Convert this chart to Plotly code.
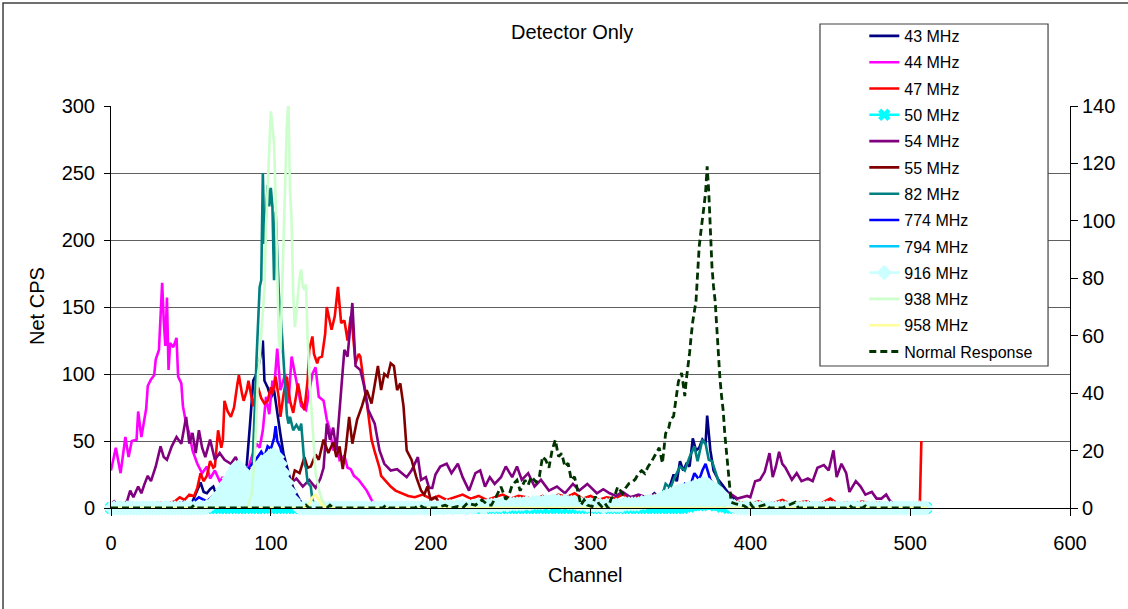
import plotly.graph_objects as go

# ---- channel grid used by the marker series (every second channel) ----
CH2 = list(range(0, 512, 2))

# ---- series data: (channel, net CPS) pairs ----
s43 = [(0, 0), (10, 1), (20, 2), (30, 1), (40, 3), (45, 4), (50, 2), (53, 10), (56, 19), (58, 12),
       (60, 11), (62, 14), (64, 16), (66, 10), (68, 8), (70, 15), (72, 12), (74, 20), (76, 13), (78, 22),
       (81, 26), (83, 22), (85, 33), (87, 63), (89, 95), (91, 100), (93, 110), (95, 125), (96, 95),
       (98, 90), (100, 82), (102, 88), (104, 70), (106, 55), (108, 40), (110, 30), (112, 22), (114, 15),
       (116, 10), (118, 6), (120, 3), (124, 0), (200, 0), (300, 2), (320, 6), (330, 9), (336, 7),
       (340, 11), (344, 6), (346, 13), (348, 10), (350, 18), (352, 25), (354, 20), (356, 35), (358, 28),
       (360, 33), (362, 31), (364, 52), (366, 43), (368, 45), (370, 51), (372, 48), (373, 69), (375, 43),
       (377, 28), (380, 21), (382, 18), (385, 13), (387, 10), (389, 8), (392, 4), (396, 1), (400, 0),
       (511, 0)]

s44 = [(0, 28), (3, 45), (6, 26), (9, 53), (11, 38), (13, 50), (16, 51), (17, 72), (19, 53), (22, 74),
       (23, 91), (25, 96), (27, 99), (28, 111), (30, 118), (32, 168), (33, 140), (34, 121), (35, 157),
       (36, 103), (37, 123), (39, 120), (41, 127), (42, 98), (44, 93), (45, 76), (47, 63), (49, 56),
       (51, 43), (54, 33), (57, 26), (60, 31), (62, 22), (65, 28), (68, 20), (70, 23), (72, 15), (75, 22),
       (78, 18), (80, 26), (83, 23), (86, 30), (88, 38), (91, 48), (93, 45), (95, 58), (97, 83), (99, 70),
       (101, 95), (102, 88), (104, 119), (106, 88), (109, 100), (111, 78), (113, 113), (116, 93),
       (119, 76), (122, 73), (124, 88), (126, 100), (128, 105), (130, 83), (133, 80), (135, 66),
       (137, 58), (139, 43), (141, 48), (143, 36), (146, 39), (148, 30), (150, 29), (152, 24), (155, 21),
       (158, 16), (160, 13), (163, 6), (165, 3), (170, 1), (180, 0), (511, 0)]

s47 = [(0, 0), (5, 1), (10, 2), (15, 1), (20, 3), (25, 2), (30, 4), (35, 3), (40, 5), (43, 8), (46, 6),
       (49, 10), (52, 9), (54, 15), (56, 26), (58, 20), (60, 24), (62, 35), (64, 30), (65, 31), (67, 58),
       (69, 45), (70, 51), (71, 80), (73, 72), (75, 68), (77, 75), (79, 92), (80, 99), (82, 85), (83, 80),
       (85, 88), (86, 95), (88, 82), (89, 76), (91, 88), (92, 90), (94, 82), (96, 78), (98, 80),
       (100, 90), (101, 85), (103, 98), (105, 82), (106, 68), (108, 85), (110, 98), (112, 80), (114, 71),
       (116, 85), (117, 93), (119, 80), (121, 73), (123, 95), (124, 118), (126, 128), (127, 115),
       (129, 108), (130, 112), (132, 113), (134, 130), (135, 150), (137, 140), (138, 133), (140, 143),
       (142, 165), (144, 138), (146, 140), (148, 125), (150, 143), (151, 135), (153, 108), (155, 115),
       (156, 113), (158, 95), (159, 88), (161, 70), (163, 51), (165, 42), (166, 38), (168, 30), (169, 24),
       (172, 20), (175, 16), (178, 13), (182, 11), (186, 9), (190, 8), (195, 10), (200, 7), (205, 9),
       (210, 6), (215, 8), (220, 10), (225, 7), (230, 9), (235, 6), (240, 8), (245, 10), (250, 7),
       (255, 9), (260, 8), (265, 6), (270, 9), (275, 7), (280, 10), (285, 8), (290, 11), (295, 7),
       (300, 9), (305, 6), (310, 8), (315, 7), (320, 10), (325, 8), (330, 9), (335, 7), (340, 10),
       (345, 9), (350, 12), (355, 10), (360, 12), (365, 11), (370, 13), (375, 10), (380, 8), (385, 6),
       (390, 5), (395, 4), (400, 3), (405, 5), (410, 3), (415, 4), (420, 6), (425, 3), (430, 4), (435, 5),
       (440, 3), (445, 4), (450, 7), (455, 3), (460, 4), (465, 3), (470, 5), (475, 3), (480, 4), (485, 3),
       (490, 2), (495, 3), (500, 2), (506, 0), (507, 50)]

cps50 = [
    0, 0, 0, 0, 0, 0, 0, 0, 0, 0, 0, 0, 0, 0, 0, 0, 0, 0, 0, 0,
    0, 0, 0, 0, 0, 0, 0, 0, 0, 0, 0, 0, 0, 0, 0, 0, 0, 0, 0, 0,
    0, 0, 0, 0, 0, 0, 0, 0, 0, 0, 0, 0, 0, 0, 0, 0, 0, 0, 0, 0,
    0, 0, 0, 0, 0, 0, 0, 0, 0, 0, 0, 0, 0, 0, 0, 0, 0, 0, 0, 0,
    0, 0, 0, 0, 0, 0, 0, 0, 0, 0, 0, 0, 0, 0, 0, 0, 0, 0, 0, 0,
    0, 0, 0, 0, 0, 0, 0, 0, 0, 0, 0, 0, 0, 0, 0, 0, 0, 0, 0, 0,
    0, 0, 0, 0, 0, 0, 0, 0, 0, 0, 0, 0, 0, 0, 0, 0, 0, 0, 0, 0,
    0, 0, 0, 0, 0, 0, 0, 0, 0, 0, 0, 0, 0, 0, 0, 0, 0, 0, 0, 0,
    0, 0, 0, 0, 0, 0, 0, 0, 0, 0, 0, 0, 0, 0, 0, 0, 0, 0, 0, 0,
    1, 1, 2, 2, 2, 3, 3, 2, 3, 2, 2, 1, 1,
    0, 0, 0, 0, 0, 0, 0, 0, 0, 0, 0, 0, 0, 0, 0, 0, 0, 0, 0, 0,
    0, 0, 0, 0, 0, 0, 0, 0, 0, 0, 0, 0, 0, 0, 0, 0, 0, 0, 0, 0,
    0, 0, 0, 0, 0, 0, 0, 0, 0, 0, 0, 0, 0, 0, 0, 0, 0, 0, 0, 0,
    0, 0, 0,
]

s54 = [(0, 3), (2, 5), (4, 2), (6, 4), (8, 3), (10, 5), (12, 13), (14, 8), (17, 16), (19, 11), (21, 18),
       (23, 24), (25, 20), (28, 31), (31, 46), (33, 38), (35, 36), (38, 46), (41, 53), (44, 48), (47, 68),
       (49, 48), (51, 56), (53, 41), (55, 58), (57, 45), (59, 38), (62, 51), (65, 36), (68, 41), (71, 36),
       (75, 33), (78, 38), (81, 29), (85, 26), (88, 33), (91, 30), (94, 28), (97, 32), (100, 26),
       (104, 30), (108, 24), (112, 18), (116, 22), (120, 16), (124, 21), (128, 15), (131, 22), (133, 30),
       (135, 63), (137, 51), (139, 60), (141, 43), (144, 88), (146, 118), (148, 113), (150, 140),
       (151, 153), (153, 106), (156, 103), (158, 93), (161, 73), (165, 63), (168, 43), (171, 33),
       (175, 28), (179, 29), (182, 26), (185, 23), (188, 28), (192, 38), (194, 21), (197, 23), (199, 15),
       (201, 15), (203, 25), (206, 31), (210, 33), (213, 26), (217, 33), (220, 23), (224, 13), (228, 26),
       (231, 28), (234, 16), (237, 23), (240, 18), (244, 23), (247, 31), (251, 23), (254, 31), (257, 21),
       (261, 26), (265, 16), (269, 21), (274, 13), (279, 16), (284, 11), (289, 18), (293, 13), (298, 18),
       (304, 11), (308, 14), (312, 11), (316, 9), (320, 12), (325, 8), (330, 10), (335, 8), (341, 10),
       (346, 7), (350, 9), (360, 8), (370, 10), (380, 9), (387, 11), (392, 7), (398, 9), (400, 8),
       (403, 20), (406, 21), (409, 27), (412, 41), (414, 23), (416, 31), (418, 42), (420, 33), (422, 30),
       (426, 21), (429, 26), (432, 20), (436, 22), (439, 20), (442, 30), (446, 32), (449, 28), (452, 43),
       (454, 23), (457, 33), (460, 26), (462, 12), (466, 20), (469, 16), (472, 10), (476, 12), (479, 7),
       (482, 7), (485, 10), (487, 6), (490, 2)]

s55 = [(0, 0), (60, 0), (70, 2), (76, 8), (78, 13), (80, 6), (84, 10), (88, 5), (92, 8), (96, 13),
       (98, 6), (100, 10), (102, 4), (105, 8), (107, 14), (109, 21), (112, 14), (115, 28), (118, 26),
       (121, 38), (123, 30), (125, 31), (128, 40), (130, 36), (133, 51), (136, 41), (139, 49), (141, 38),
       (143, 46), (145, 29), (147, 45), (149, 68), (151, 48), (154, 66), (157, 76), (160, 88), (163, 78),
       (165, 93), (167, 106), (169, 88), (171, 100), (173, 98), (175, 108), (177, 106), (179, 88),
       (181, 93), (183, 76), (185, 43), (188, 36), (191, 23), (194, 13), (196, 10), (198, 16), (200, 6),
       (203, 8), (206, 3), (210, 0), (215, 0)]

s82 = [(0, 0), (80, 0), (84, 2), (86, 5), (88, 15), (89, 40), (90, 75), (91, 110), (92, 140), (93, 165),
       (94, 170), (95, 250), (96, 197), (97, 225), (98, 241), (99, 225), (100, 239), (101, 225),
       (102, 170), (103, 221), (104, 190), (105, 160), (106, 148), (107, 130), (108, 115), (109, 90),
       (110, 70), (111, 63), (112, 68), (114, 58), (116, 62), (117, 60), (118, 58), (119, 63), (120, 45),
       (121, 33), (122, 30), (123, 19), (125, 16), (126, 6), (128, 2), (135, 0), (340, 0), (345, 10),
       (347, 18), (350, 15), (352, 21), (354, 26), (356, 31), (359, 28), (362, 38), (365, 46), (367, 35),
       (370, 51), (372, 48), (374, 36), (376, 35), (379, 24), (381, 16), (384, 11), (387, 6), (390, 2),
       (395, 0)]

s774 = [(0, 0), (30, 1), (44, 4), (50, 3), (55, 8), (60, 5), (65, 10), (70, 14), (75, 18), (80, 22),
        (85, 28), (90, 35), (94, 42), (96, 38), (98, 46), (100, 44), (102, 52), (103, 61), (104, 50),
        (106, 45), (108, 34), (110, 25), (112, 16), (114, 12), (116, 8), (118, 5), (122, 2), (130, 0),
        (340, 0), (350, 6), (355, 12), (359, 18), (362, 15), (365, 26), (368, 21), (370, 28), (372, 33),
        (374, 24), (375, 21), (378, 16), (382, 10), (386, 5), (392, 0), (511, 0)]

s794 = [(0, 0), (60, 0), (70, 5), (75, 10), (78, 16), (80, 8), (85, 12), (90, 10), (95, 15), (100, 20),
        (102, 21), (105, 15), (110, 8), (115, 3), (120, 0), (340, 0), (360, 10), (370, 15), (375, 18),
        (380, 10), (390, 0), (511, 0)]

cps916 = [
    0, 0, 0, 0, 0, 0, 0, 0, 0, 0, 0, 0, 0, 0, 0, 0, 0, 0, 0, 0,
    0, 0, 0, 0, 0, 0, 0, 0, 0, 0,
    1, 2, 4, 7, 10, 14, 18, 22, 26, 30, 31, 28, 24, 21, 22, 26, 30, 33, 35, 37,
    39, 40, 38, 33, 26, 19, 12, 6, 2, 0,
    0, 0, 0, 0, 0, 0, 0, 0, 0, 0, 0, 0, 0, 0, 0, 0, 0, 0, 0, 0,
    0, 0, 0, 0, 0, 0, 0, 0, 0, 0, 0, 0, 0, 0, 0, 0, 0, 0, 0, 0,
    0, 0, 0, 1, 0, 1, 1, 0, 1, 1, 1, 0, 1, 1, 1, 2, 1, 1, 2, 2,
    2, 2, 2, 3, 2, 3, 3, 3, 3, 3, 4, 3, 4, 4, 4, 4, 5, 4, 5, 5,
    5, 4, 5, 4, 4, 4, 3, 3, 3, 2,
    2, 2, 2, 2, 1, 2, 2, 2, 2, 2, 2, 3, 3, 3, 3, 3, 4, 4, 5, 5,
    5, 6, 7, 8, 9, 10, 11, 12, 13, 13, 14, 15, 15, 16, 17, 18, 18, 17, 15, 14,
    12, 10, 7, 4, 2, 1, 0, 0, 0, 0,
    0, 0, 0, 0, 0, 0, 0, 0, 0, 0, 0, 0, 0, 0, 0, 0, 0, 0, 0, 0,
    0, 0, 0, 0, 0, 0, 0, 0, 0, 0, 0, 0, 0, 0, 0, 0, 0, 0, 0, 0,
    0, 0, 0, 0, 0, 0, 0, 0, 0, 0, 0, 0, 0, 0, 0, 0,
]

s938 = [(0, 0), (85, 0), (88, 10), (90, 40), (92, 100), (93, 111), (94, 130), (95, 148), (96, 163),
        (97, 210), (98, 235), (99, 260), (100, 296), (101, 285), (102, 272), (103, 230), (104, 170),
        (105, 125), (106, 118), (107, 160), (108, 210), (109, 250), (110, 285), (111, 304), (112, 237),
        (113, 215), (114, 160), (115, 135), (116, 145), (117, 160), (118, 172), (119, 178), (120, 165),
        (121, 163), (122, 167), (123, 126), (124, 100), (125, 80), (126, 63), (127, 40), (128, 26),
        (130, 14), (132, 6), (135, 0), (511, 0)]

s958 = [(0, 0), (120, 0), (124, 3), (126, 8), (128, 10), (130, 6), (132, 2), (135, 0), (511, 0)]

# Normal response is read against the right-hand axis
s_normal = [(0, 0), (50, 0), (52, 1), (54, 0), (120, 0), (122, 1), (124, 0), (135, 0), (137, 1), (139, 0),
            (170, 0), (172, 1), (174, 0), (190, 0), (193, 1), (196, 0), (203, 0), (209, 1), (213, 0),
            (217, 0.5), (220, 0), (223, 1.7), (228, 1), (232, 2.8), (236, 1), (238, 1), (241, 4),
            (244, 7.4), (247, 3), (249, 4.5), (251, 8), (254, 9.7), (256, 6), (259, 9.7), (261, 8),
            (263, 10.9), (266, 9), (268, 10.9), (270, 17.9), (272, 16.7), (274, 14), (276, 20.2),
            (278, 23.7), (280, 17.9), (282, 19), (284, 14.4), (286, 15.6), (288, 9.7), (290, 10.9),
            (292, 6.3), (294, 1), (296, 2.8), (298, 1), (301, 0.5), (303, 4), (305, 1.7), (307, 0.5),
            (309, 1.7), (311, 0), (313, 3.4), (315, 4), (317, 7.4), (320, 5), (322, 7), (324, 8.5),
            (326, 9), (328, 10), (330, 12), (332, 13), (334, 12), (336, 14.4), (338, 16), (340, 18),
            (343, 21), (345, 15.6), (347, 26), (349, 28), (350, 30.6), (352, 32), (353, 36), (355, 44),
            (357, 47), (359, 39), (360, 45), (361, 49), (362, 54), (363, 60), (364, 65), (366, 72),
            (367, 82), (368, 91), (369, 96), (370, 100), (371, 105), (372, 110), (373, 119), (374, 110),
            (375, 95), (376, 84), (377, 77), (378, 72), (379, 63), (380, 53), (381, 45), (382, 39),
            (383, 34), (384, 26), (385, 20), (386, 14.6), (387, 8.8), (388, 2), (391, 1.4), (396, 0.8),
            (398, 0), (400, 1.5), (402, 0), (410, 1.3), (412, 0), (420, 0), (428, 2), (430, 0),
            (460, 0), (462, 1), (464, 0), (470, 0), (472, 0.7), (474, 0), (507, 0)]

FONT = "Liberation Sans, Arial, sans-serif"
LW = 2.6

fig = go.Figure()


def add_line(name, pts, color, width=LW):
    xs, ys = zip(*pts)
    fig.add_trace(go.Scatter(x=list(xs), y=list(ys), name=name, mode="lines",
                             line=dict(color=color, width=width),
                             legendgroup=name, cliponaxis=False))


add_line("43 MHz", s43, "#000080")
add_line("44 MHz", s44, "#FF00FF")
add_line("47 MHz", s47, "#FF0000")
fig.add_trace(go.Scatter(x=CH2, y=cps50, name="50 MHz", mode="lines+markers",
                         line=dict(color="#00FFFF", width=LW),
                         marker=dict(symbol="x", size=11, color="#00FFFF", line=dict(width=0)),
                         legendgroup="50 MHz", cliponaxis=False))
add_line("54 MHz", s54, "#800080")
add_line("55 MHz", s55, "#800000")
add_line("82 MHz", s82, "#008080")
add_line("774 MHz", s774, "#0000FF")
add_line("794 MHz", s794, "#00CCFF")
# the densely marked 916 MHz trace reads as a solid light-cyan mound
fig.add_trace(go.Scatter(x=CH2, y=cps916, mode="none", fill="tozeroy", fillcolor="#CCFFFF",
                         showlegend=False, hoverinfo="skip", legendgroup="916 MHz",
                         cliponaxis=False))
fig.add_trace(go.Scatter(x=CH2, y=cps916, name="916 MHz", mode="lines+markers",
                         line=dict(color="#CCFFFF", width=LW),
                         marker=dict(symbol="diamond", size=12, color="#CCFFFF", line=dict(width=0)),
                         legendgroup="916 MHz", cliponaxis=False))
add_line("938 MHz", s938, "#CCFFCC")
add_line("958 MHz", s958, "#FFFF99")

nx, ny = zip(*s_normal)
fig.add_trace(go.Scatter(x=list(nx), y=list(ny), name="Normal Response", mode="lines", yaxis="y2",
                         line=dict(color="#003300", width=2.8, dash="7px,4px"),
                         legendgroup="Normal Response", cliponaxis=False))

fig.update_layout(
    width=1128, height=609,
    margin=dict(l=111, r=58, t=106, b=101),
    paper_bgcolor="white", plot_bgcolor="white",
    font=dict(family=FONT, color="black", size=20),
    showlegend=True,
    legend=dict(x=0.7855, y=1.2164, xanchor="left", yanchor="top",
                bgcolor="rgba(0,0,0,0)", borderwidth=0,
                font=dict(family=FONT, size=16, color="black"),
                tracegroupgap=2.5, traceorder="grouped", maxheight=560),
    xaxis=dict(range=[0, 600], dtick=100, tick0=0, showgrid=False, zeroline=False,
               showline=True, linecolor="black", linewidth=1,
               ticks="outside", ticklen=7, tickcolor="black",
               tickfont=dict(size=20), ticklabelstandoff=10),
    yaxis=dict(range=[0, 300], dtick=50, tick0=0, showgrid=True, gridcolor="#606060", gridwidth=1.2,
               zeroline=False, showline=True, linecolor="black", linewidth=1,
               ticks="outside", ticklen=6, tickcolor="black",
               tickfont=dict(size=20), ticklabelstandoff=5),
    yaxis2=dict(range=[0, 140], dtick=20, tick0=0, overlaying="y", side="right",
                showgrid=False, zeroline=False, showline=True, linecolor="black", linewidth=1,
                ticks="outside", ticklen=7, tickcolor="black", tickfont=dict(size=20)),
    annotations=[
        dict(text="Detector Only", xref="paper", yref="paper", x=0.4807, y=1.184,
             xanchor="center", yanchor="middle", showarrow=False, font=dict(size=20)),
        dict(text="Net CPS", xref="paper", yref="paper", x=-0.0772, y=0.5025, textangle=-90,
             xanchor="center", yanchor="middle", showarrow=False, font=dict(size=20)),
        dict(text="Channel", xref="paper", yref="paper", x=0.4953, y=-0.1667,
             xanchor="center", yanchor="middle", showarrow=False, font=dict(size=20)),
    ],
    shapes=[
        # chart-area border
        dict(type="rect", xref="paper", yref="paper", x0=-0.1126, y0=-0.27, x1=1.07, y1=1.256,
             line=dict(color="#404040", width=1.5), fillcolor="rgba(0,0,0,0)", layer="below"),
        # legend frame
        dict(type="rect", xref="paper", yref="paper", x0=0.7393, y0=0.3532, x1=0.9771, y1=1.204,
             line=dict(color="#404040", width=1.2), fillcolor="white", layer="above"),
    ],
)

fig.write_html("out.html")
